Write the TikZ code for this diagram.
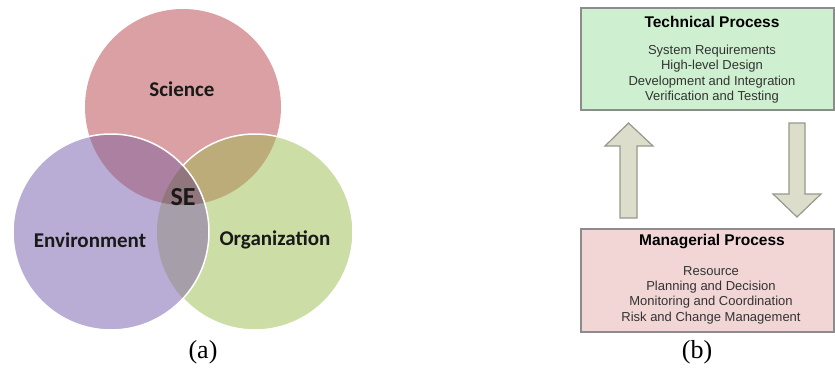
\documentclass[tikz,border=0pt]{standalone}
\usepackage{fontspec}
\usepackage{xcolor}
\usepackage{tikz}
\newfontfamily\calibrifont{Carlito}
\newfontfamily\arialfont{Liberation Sans}
\newfontfamily\timesfont{Liberation Serif}

\definecolor{scipink}{RGB}{219,160,163}
\definecolor{envlilac}{RGB}{185,172,213}
\definecolor{orggreen}{RGB}{204,221,165}
\definecolor{sciEnv}{RGB}{172,128,160}
\definecolor{sciOrg}{RGB}{188,172,122}
\definecolor{envOrg}{RGB}{166,158,168}
\definecolor{allThree}{RGB}{145,118,126}
\definecolor{techgreen}{RGB}{206,240,208}
\definecolor{mgmtpink}{RGB}{242,214,214}
\definecolor{arrowfill}{RGB}{220,221,202}
\definecolor{arrowline}{RGB}{150,152,140}

\tikzset{
  setlabel/.style={font=\calibrifont\bfseries\fontsize{21}{24}\selectfont, text=black!90},
  procbox/.style={draw=black!45, line width=1.2pt, minimum width=253pt, inner sep=0pt},
  proctitle/.style={font=\arialfont\bfseries\fontsize{15.5}{18}\selectfont, inner sep=0pt},
  procbody/.style={font=\arialfont\fontsize{13}{15.3}\selectfont, align=center, inner sep=0pt, text=black!80},
  caption/.style={font=\timesfont\fontsize{26}{28}\selectfont, inner sep=0pt},
  blockarrow/.style={fill=arrowfill, draw=arrowline, line width=1.2pt, line join=miter}
}

\begin{document}
\begin{tikzpicture}[x=1pt,y=1pt,yscale=-1,xscale=1]
\useasboundingbox (0,0) rectangle (835,369);

%Venn diagram (a)
\coordinate (sci) at (183,107);
\coordinate (env) at (111,232);
\coordinate (org) at (255,232);

\fill[scipink] (sci) circle[radius=98pt];
\fill[orggreen] (org) circle[radius=98pt];
\begin{scope}
  \clip (sci) circle[radius=98pt];
  \fill[sciOrg] (org) circle[radius=98pt];
\end{scope}
\draw[white, line width=1.5pt] (org) circle[radius=98pt];
\fill[envlilac] (env) circle[radius=98pt];
\begin{scope}
  \clip (env) circle[radius=98pt];
  \fill[sciEnv] (sci) circle[radius=98pt];
  \fill[envOrg] (org) circle[radius=98pt];
  \clip (sci) circle[radius=98pt];
  \fill[allThree] (org) circle[radius=98pt];
\end{scope}
\draw[white, line width=1.5pt] (env) circle[radius=98pt];

% Text Node
\node[setlabel] (science) at (182,89) {Science};
% Text Node
\node[setlabel, font=\calibrifont\bfseries\fontsize{26}{28}\selectfont] (se) at (183,197) {SE};
% Text Node
\node[setlabel] (environment) at (90,240) {Environment};
% Text Node
\node[setlabel] (organization) at (275,240) {Organization};
% Text Node
\node[caption] (capA) at (203,352) {(a)};

%Process boxes (b)
\node[procbox, fill=techgreen, minimum height=102pt] (tech) at (707.5,59) {};
\node[proctitle] (techTitle) at (712,22) {Technical Process};
\node[procbody] (techBody) at (712,74) {System Requirements\\High-level Design\\Development and Integration\\Verification and Testing};

\node[procbox, fill=mgmtpink, minimum height=103pt] (mgmt) at (707.5,280.5) {};
\node[proctitle] (mgmtTitle) at (712,242) {Managerial Process};
\node[procbody] (mgmtBody) at (711,295) {Resource\\Planning and Decision\\Monitoring and Coordination\\Risk and Change Management};

%Block arrow up
\draw[blockarrow] (628.5,123) -- (653,146) -- (637,146) -- (637,218) -- (620,218) -- (620,146) -- (605,146) -- cycle;
%Block arrow down
\draw[blockarrow] (797,217) -- (821,194) -- (805,194) -- (805,123) -- (789,123) -- (789,194) -- (773,194) -- cycle;

% Text Node
\node[caption] (capB) at (697,352) {(b)};
\end{tikzpicture}
\end{document}
